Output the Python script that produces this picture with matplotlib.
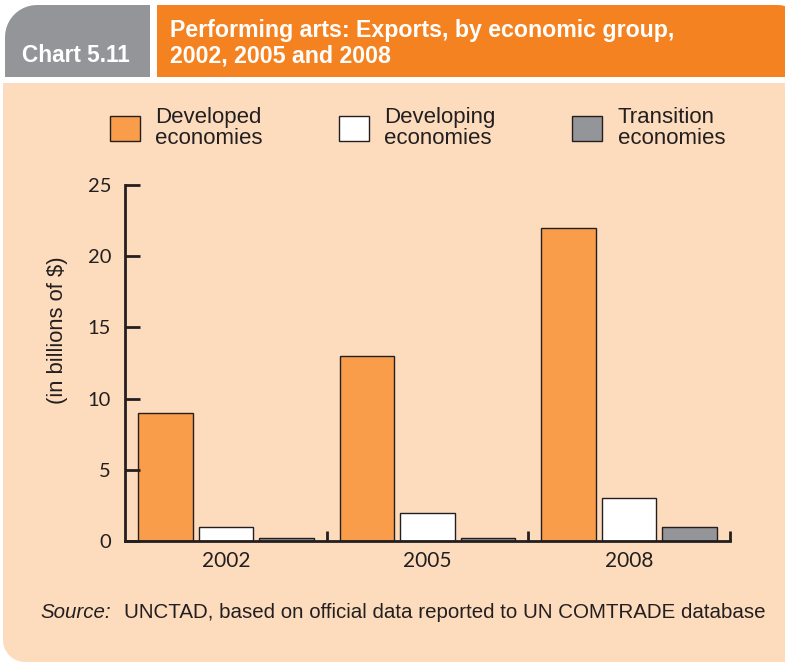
import numpy as np
import matplotlib
matplotlib.use("Agg")
import matplotlib.pyplot as plt
from matplotlib.path import Path
from matplotlib.patches import PathPatch

# Data
years = ["2002", "2005", "2008"]
developed = [9, 13, 22]
developing = [1, 2, 3]
transition = [0.2, 0.2, 1]
series_labels = ["Developed\neconomies", "Developing\neconomies", "Transition\neconomies"]
yticks = [0, 5, 10, 15, 20, 25]

W, H = 785, 665
PEACH = "#FDDCBD"
ORANGE = "#F58220"
GREY = "#939598"
BAR_ORANGE = "#F99D4A"
INK = "#231F20"
SANS = ["Liberation Sans", "DejaVu Sans"]
MYRIAD = ["Lato", "DejaVu Sans"]

fig = plt.figure(figsize=(W / 100, H / 100), dpi=100, facecolor="white")


def box(x0, y0, x1, y1, tl=0, tr=0, br=0, bl=0):
    # rectangle in pixel coords (y down) with per-corner radius, returned in inches
    pts = []

    def arc(cx, cy, r, a0, a1):
        t = np.linspace(np.radians(a0), np.radians(a1), 12)
        return list(zip(cx + r * np.cos(t), cy - r * np.sin(t)))

    pts += arc(x0 + tl, y0 + tl, tl, 180, 90) if tl else [(x0, y0)]
    pts += arc(x1 - tr, y0 + tr, tr, 90, 0) if tr else [(x1, y0)]
    pts += arc(x1 - br, y1 - br, br, 0, -90) if br else [(x1, y1)]
    pts += arc(x0 + bl, y1 - bl, bl, -90, -180) if bl else [(x0, y1)]
    pts.append(pts[0])
    v = np.array([(x / 100, (H - y) / 100) for x, y in pts])
    return Path(v)


for path, col in [
    (box(5, 5, 150, 77, tl=32), GREY),
    (box(157, 5, 800, 77, tr=22), ORANGE),
    (box(3, 83, 800, 662, bl=22), PEACH),
]:
    fig.add_artist(PathPatch(path, facecolor=col, edgecolor="none",
                             transform=fig.dpi_scale_trans, zorder=0))

fig.text(22 / W, 1 - 62 / H, "Chart 5.11", color="white", fontsize=16.3,
         fontweight="bold", family=SANS, va="baseline")
fig.text(170 / W, 1 - 37 / H, "Performing arts: Exports, by economic group,",
         color="white", fontsize=16.7, fontweight="bold", family=SANS, va="baseline")
fig.text(170 / W, 1 - 63 / H, "2002, 2005 and 2008",
         color="white", fontsize=16.7, fontweight="bold", family=SANS, va="baseline")

# Axes
ax = fig.add_axes([125 / W, 1 - 541 / H, 605 / W, 356 / H])
ax.set_facecolor("none")
x = np.arange(len(years))
w = 0.27
b1 = ax.bar(x - 0.3, developed, w, color=BAR_ORANGE, edgecolor=INK, linewidth=1)
b2 = ax.bar(x, developing, w, color="white", edgecolor=INK, linewidth=1)
b3 = ax.bar(x + 0.3, transition, w, color=GREY, edgecolor=INK, linewidth=1)

ax.set_xlim(-0.5, 2.5)
ax.set_ylim(0, 25)
ax.set_yticks(yticks)
ax.set_xticks(x)
ax.set_xticklabels(years)
ax.set_xticks([0.5, 1.5, 2.5], minor=True)
for s in ["top", "right"]:
    ax.spines[s].set_visible(False)
for s in ["left", "bottom"]:
    ax.spines[s].set_color(INK)
    ax.spines[s].set_linewidth(2)
ax.tick_params(axis="y", direction="in", length=11, width=2, color=INK,
               labelsize=14.5, labelcolor=INK, pad=10)
ax.tick_params(axis="x", which="major", length=0, labelsize=15, labelcolor=INK, pad=7)
ax.tick_params(axis="x", which="minor", direction="in", length=7, width=2, color=INK)
for lab in ax.get_xticklabels() + ax.get_yticklabels():
    lab.set_family(MYRIAD)
ax.set_ylabel("(in billions of $)", fontsize=15.8, color=INK, family=SANS)
ax.yaxis.set_label_coords((68 - 125) / 605, (541 - 330) / 356)

leg = fig.legend([b1, b2, b3], series_labels, loc="upper left",
                 bbox_to_anchor=(110 / W, 1 - 107 / H), ncol=3, frameon=False,
                 borderpad=0, borderaxespad=0, handlelength=1.35, handleheight=1.35,
                 handletextpad=0.68, columnspacing=3.45,
                 prop={"family": SANS, "size": 16})
for t in leg.get_texts():
    t.set_color(INK)
    t.set_linespacing(1.0)

fig.text(40 / W, 1 - 618 / H, "Source:", style="italic", fontsize=14.8,
         family=SANS, color=INK, va="baseline")
fig.text(124 / W, 1 - 618 / H,
         "UNCTAD, based on official data reported to UN COMTRADE database",
         fontsize=14.8, family=SANS, color=INK, va="baseline")

fig.savefig("out.png", dpi=100)
